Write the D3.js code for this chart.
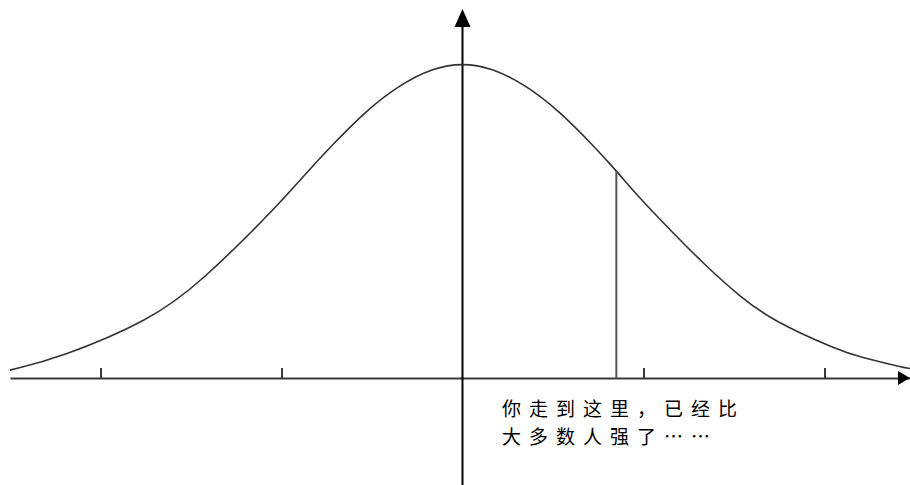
<!DOCTYPE html>
<html>
<head>
<meta charset="utf-8">
<script src="https://cdn.jsdelivr.net/npm/d3@7"></script>
<style>
  html, body { margin: 0; padding: 0; background: #fff; }
  svg { display: block; }
</style>
</head>
<body>
<svg id="chart" width="910" height="485"></svg>
<script>
// Curve points (x in tick units, y = density height)
const curveX = [-2.5, -2.22, -1.73, -1.45, -1.0, -0.9, -0.72, -0.53, -0.35, -0.16, 0,
                0.16, 0.35, 0.53, 0.72, 0.85, 0.98, 1.16, 1.35, 1.53, 1.71, 2.08, 2.19, 2.44, 2.5];
const curveY = [0.010, 0.026, 0.073, 0.120, 0.224, 0.251, 0.296, 0.340, 0.372, 0.394, 0.400,
                0.394, 0.372, 0.340, 0.296, 0.263, 0.228, 0.185, 0.141, 0.104, 0.073, 0.035, 0.027, 0.013, 0.011];
const tickValues = [-2, -1, 1, 2];
const markerX = [0.85];
const markerY = [0.263];
const labelLines = ["你走到这里，已经比", "大多数人强了……"];

const svg = d3.select("#chart");
const x = d3.scaleLinear().domain([-2.5, 2.5]).range([10, 915]);
const y = d3.scaleLinear().domain([0, 0.4]).range([378, 63]);

// x axis (ticks point upward, no labels)
const xAxis = d3.axisBottom(x).tickValues(tickValues).tickSizeInner(-10).tickSizeOuter(0).tickFormat("");
const gx = svg.append("g").attr("transform", `translate(0,${y(0)})`).call(xAxis);
gx.select(".domain").attr("stroke", "#3a3a3a").attr("stroke-width", 2);
gx.selectAll(".tick line").attr("stroke", "#3a3a3a").attr("stroke-width", 2);

// x axis arrow
svg.append("path")
  .attr("d", `M910,${y(0)} L898,${y(0) - 7} L898,${y(0) + 7} Z`)
  .attr("fill", "#000");

// y axis
const x0 = x(0);
svg.append("line")
  .attr("x1", x0).attr("x2", x0)
  .attr("y1", 485).attr("y2", 24)
  .attr("stroke", "#000").attr("stroke-width", 2);
svg.append("path")
  .attr("d", `M${x0},9 L${x0 - 8},27 L${x0 + 8},27 Z`)
  .attr("fill", "#000");

// curve
const pts = curveX.map((d, i) => [d, curveY[i]]);
svg.append("path")
  .datum(pts)
  .attr("fill", "none")
  .attr("stroke", "#333")
  .attr("stroke-width", 1.6)
  .attr("d", d3.line().x(d => x(d[0])).y(d => y(d[1])).curve(d3.curveBasis));

// marker line
svg.selectAll(".marker").data(markerX).enter().append("line")
  .attr("class", "marker")
  .attr("x1", d => x(d)).attr("x2", d => x(d))
  .attr("y1", (d, i) => y(markerY[i])).attr("y2", y(0))
  .attr("stroke", "#555").attr("stroke-width", 2);

// label (two lines)
svg.selectAll(".lbl").data(labelLines).enter().append("text")
  .attr("class", "lbl")
  .attr("x", 502)
  .attr("y", (d, i) => 416 + i * 28)
  .attr("font-family", "'Noto Sans CJK SC', sans-serif")
  .attr("font-size", 19)
  .attr("letter-spacing", 8)
  .attr("fill", "#000")
  .text(d => d);
</script>
</body>
</html>
